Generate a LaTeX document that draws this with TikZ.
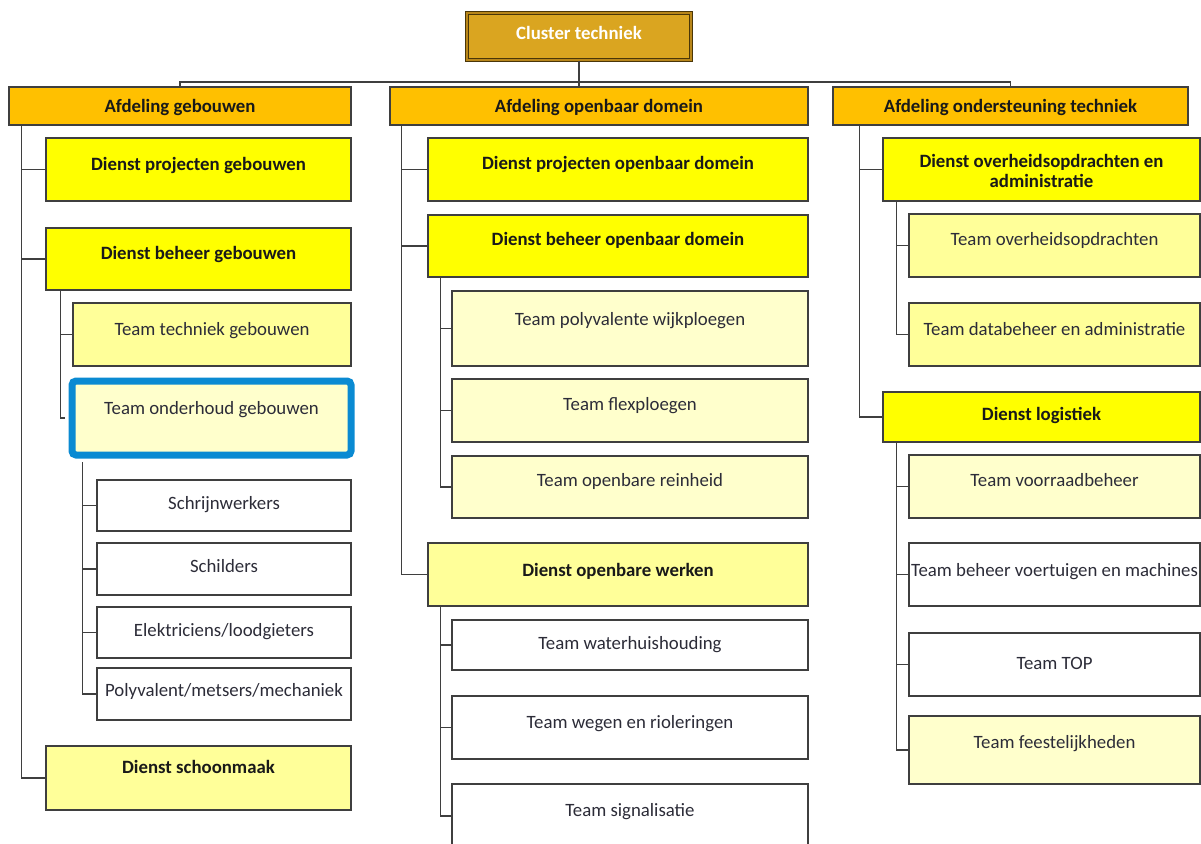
\documentclass[tikz,border=0pt]{standalone}
\usepackage{fontspec}
\setmainfont{Carlito}
\usetikzlibrary{fit}
\definecolor{orangeA}{HTML}{FFC000}
\definecolor{yellowA}{HTML}{FFFF00}
\definecolor{yellowB}{HTML}{FFFF99}
\definecolor{yellowC}{HTML}{FFFFCC}
\definecolor{goldA}{HTML}{DAA520}
\definecolor{goldD}{HTML}{4A3608}
\definecolor{goldM}{HTML}{B8861A}
\definecolor{blueH}{HTML}{0A8AD2}
\definecolor{edge}{HTML}{3F3F3F}
\definecolor{teamtxt}{HTML}{2C2C38}
\newcommand\bx[6]{\node[#2,fit={(#3,#4)(#5,#6)}] (#1) {};}
\tikzset{
  box/.style={draw=edge, line width=1.4pt, inner sep=0pt, rectangle},
  orangebox/.style={box, fill=orangeA},
  ybox/.style={box, fill=yellowA},
  lybox/.style={box, fill=yellowB},
  pybox/.style={box, fill=yellowC},
  wbox/.style={box, fill=white},
  hlbox/.style={draw=blueH, line width=7pt, rounded corners=4pt, fill=yellowC, inner sep=0pt, rectangle},
  clbox/.style={draw=goldD, line width=1.1pt, double=goldM, double distance=1.6pt, fill=goldA, inner sep=0pt, rectangle},
  btxt/.style={anchor=base, inner sep=0pt, font=\fontsize{18.8}{20.5}\selectfont\bfseries, text=black!90},
  ttxt/.style={anchor=base, inner sep=0pt, font=\fontsize{18.8}{20.5}\selectfont, text=teamtxt},
  conn/.style={draw=edge, line width=1.3pt}
}
\begin{document}
\begin{tikzpicture}[x=1pt,y=-1pt]
\useasboundingbox (0,0) rectangle (1201,843);
\clip (0,0) rectangle (1201,843);
% top
\bx{cl}{clbox}{467}{13}{691}{60}
\node[btxt, text=white] (clT) at (cl.center |- 0,40) {Cluster techniek};
% departments
\bx{afd1}{orangebox}{9}{87}{351}{125}
\bx{afd2}{orangebox}{390}{87}{808}{125}
\bx{afd3}{orangebox}{833}{87}{1188}{125}
\node[btxt] (afd1T) at (afd1.center |- 0,112.7) {Afdeling gebouwen};
\node[btxt] (afd2T) at (afd2.center |- 0,112.7) {Afdeling openbaar domein};
\node[btxt] (afd3T) at (afd3.center |- 0,112.7) {Afdeling ondersteuning techniek};
% left column
\bx{dpg}{ybox}{46}{138}{351}{201}
\bx{dbg}{ybox}{46}{228}{351}{290}
\bx{ttg}{lybox}{73}{303}{351}{366}
\bx{tog}{hlbox}{72}{381}{351}{455}
\bx{sa}{wbox}{97}{480}{351}{531}
\bx{sb}{wbox}{97}{543}{351}{595}
\bx{sc}{wbox}{97}{607}{351}{658}
\bx{sd}{wbox}{97}{668}{351}{720}
\bx{dsm}{lybox}{46}{746}{351}{810}
\node[btxt] (dpgT) at (dpg.center |- 0,170) {Dienst projecten gebouwen};
\node[btxt] (dbgT) at (dbg.center |- 0,259) {Dienst beheer gebouwen};
\node[ttxt] (ttgT) at (ttg.center |- 0,335.5) {Team techniek gebouwen};
\node[ttxt] (togT) at (tog.center |- 0,414) {Team onderhoud gebouwen};
\node[ttxt] (saT) at (sa.center |- 0,509) {Schrijnwerkers};
\node[ttxt] (sbT) at (sb.center |- 0,572.7) {Schilders};
\node[ttxt] (scT) at (sc.center |- 0,636) {Elektriciens/loodgieters};
\node[ttxt] (sdT) at (sd.center |- 0,696.7) {Polyvalent/metsers/mechaniek};
\node[btxt] (dsmT) at (dsm.center |- 0,773) {Dienst schoonmaak};
% middle column
\bx{dpo}{ybox}{428}{138}{808}{201}
\bx{dbo}{ybox}{428}{215}{808}{277}
\bx{tpw}{pybox}{452}{291}{808}{366}
\bx{tfl}{pybox}{452}{379}{808}{442}
\bx{tor}{pybox}{452}{456}{808}{518}
\bx{dow}{lybox}{428}{543}{808}{606}
\bx{twh}{wbox}{452}{620}{808}{670}
\bx{twr}{wbox}{452}{696}{808}{759}
\bx{tsg}{wbox}{452}{784}{808}{880}
\node[btxt] (dpoT) at (dpo.center |- 0,169) {Dienst projecten openbaar domein};
\node[btxt] (dboT) at (dbo.center |- 0,245.7) {Dienst beheer openbaar domein};
\node[ttxt] (tpwT) at (tpw.center |- 0,325) {Team polyvalente wijkploegen};
\node[ttxt] (tflT) at (tfl.center |- 0,410.7) {Team flexploegen};
\node[ttxt] (torT) at (tor.center |- 0,486.7) {Team openbare reinheid};
\node[btxt] (dowT) at (dow.center |- 0,576) {Dienst openbare werken};
\node[ttxt] (twhT) at (twh.center |- 0,649) {Team waterhuishouding};
\node[ttxt] (twrT) at (twr.center |- 0,728) {Team wegen en rioleringen};
\node[ttxt] (tsgT) at (tsg.center |- 0,816.7) {Team signalisatie};
% right column
\bx{dov}{ybox}{883}{138}{1200}{201}
\bx{tov}{lybox}{909}{214}{1200}{277}
\bx{tdb}{lybox}{909}{303}{1200}{366}
\bx{dlo}{ybox}{883}{392}{1200}{442}
\bx{tvr}{pybox}{909}{455}{1200}{518}
\bx{tbv}{wbox}{909}{543}{1200}{606}
\bx{ttp}{wbox}{909}{633}{1200}{696}
\bx{tfe}{pybox}{909}{716}{1200}{784}
\node[btxt, anchor=center, align=center] (dovT) at (dov.center |- 0,171) {Dienst overheidsopdrachten en\\administratie};
\node[ttxt] (tovT) at (tov.center |- 0,245.7) {Team overheidsopdrachten};
\node[ttxt] (tdbT) at (tdb.center |- 0,335) {Team databeheer en administratie};
\node[btxt] (dloT) at (dlo.center |- 0,420.7) {Dienst logistiek};
\node[ttxt] (tvrT) at (tvr.center |- 0,486.7) {Team voorraadbeheer};
\node[ttxt] (tbvT) at (tbv.center |- 0,576.7) {Team beheer voertuigen en machines};
\node[ttxt] (ttpT) at (ttp.center |- 0,669) {Team TOP};
\node[ttxt] (tfeT) at (tfe.center |- 0,748) {Team feestelijkheden};
% connectors: top
\draw[conn] (cl.south) -- (afd2.north -| cl.south);
\draw[conn] (afd1.north) |- (cl.south |- 0,82) -| (afd3.north);
% left
\draw[conn] ([xshift=13pt]afd1.south west) |- (dpg.west);
\draw[conn] ([xshift=13pt]afd1.south west) |- (dbg.west);
\draw[conn] ([xshift=13pt]afd1.south west) |- (dsm.west);
\draw[conn] ([xshift=15pt]dbg.south west) |- (ttg.west);
\draw[conn] ([xshift=15pt]dbg.south west) |- ([xshift=-3.5pt]tog.west);
\draw[conn] ([xshift=14pt,yshift=-3.5pt]tog.south west) |- (sa.west);
\draw[conn] ([xshift=14pt,yshift=-3.5pt]tog.south west) |- (sb.west);
\draw[conn] ([xshift=14pt,yshift=-3.5pt]tog.south west) |- (sc.west);
\draw[conn] ([xshift=14pt,yshift=-3.5pt]tog.south west) |- (sd.west);
% middle
\draw[conn] ([xshift=12pt]afd2.south west) |- (dpo.west);
\draw[conn] ([xshift=12pt]afd2.south west) |- (dbo.west);
\draw[conn] ([xshift=12pt]afd2.south west) |- (dow.west);
\draw[conn] ([xshift=13pt]dbo.south west) |- (tpw.west);
\draw[conn] ([xshift=13pt]dbo.south west) |- (tfl.west);
\draw[conn] ([xshift=13pt]dbo.south west) |- (tor.west);
\draw[conn] ([xshift=13pt]dow.south west) |- (twh.west);
\draw[conn] ([xshift=13pt]dow.south west) |- (twr.west);
\draw[conn] ([xshift=13pt]dow.south west) |- (tsg.west |- 0,816);
% right
\draw[conn] ([xshift=27pt]afd3.south west) |- (dov.west);
\draw[conn] ([xshift=27pt]afd3.south west) |- (dlo.west);
\draw[conn] ([xshift=14pt]dov.south west) |- (tov.west);
\draw[conn] ([xshift=14pt]dov.south west) |- (tdb.west);
\draw[conn] ([xshift=14pt]dlo.south west) |- (tvr.west);
\draw[conn] ([xshift=14pt]dlo.south west) |- (tbv.west);
\draw[conn] ([xshift=14pt]dlo.south west) |- (ttp.west);
\draw[conn] ([xshift=14pt]dlo.south west) |- (tfe.west);
\end{tikzpicture}
\end{document}
